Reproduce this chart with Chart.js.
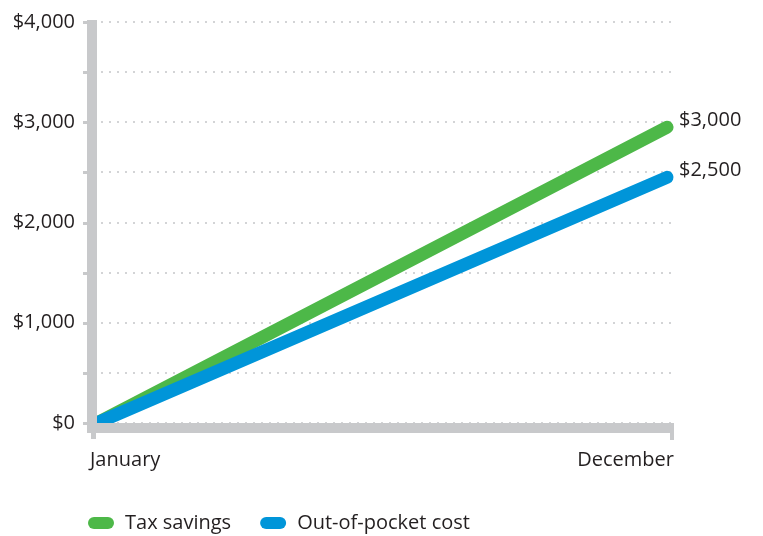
<!DOCTYPE html>
<html>
<head>
<meta charset="utf-8">
<script src="https://cdn.jsdelivr.net/npm/chart.js@4"></script>
<style>
  html, body { margin: 0; padding: 0; background: #fff; }
  #wrap { width: 763px; height: 536px; }
</style>
</head>
<body>
<div id="wrap"><canvas id="chart"></canvas></div>
<script>
const months = ["January", "December"];
const taxSavings = [0, 2950];
const outOfPocket = [0, 2450];
const endLabels = ["$3,000", "$2,500"];
const seriesNames = ["Tax savings", "Out-of-pocket cost"];
const seriesColors = ["#4db848", "#0095d9"];

const axisGray = "#c8c9cb";
const textColor = "#231f20";
const fontFamily = "'Open Sans', sans-serif";
const fontSize = 20;

// dotted grid under the lines, thick gray axes over their ends
const axesPlugin = {
  id: "axes",
  beforeDatasetsDraw(chart) {
    const { ctx, chartArea: { left, right } } = chart;
    const y = chart.scales.y;
    ctx.save();
    ctx.strokeStyle = "#d3d4d6";
    ctx.lineWidth = 2;
    ctx.setLineDash([2, 6]);
    y.ticks.forEach((t) => {
      const py = Math.round(y.getPixelForValue(t.value));
      ctx.beginPath();
      ctx.moveTo(left + 4, py);
      ctx.lineTo(right + 6, py);
      ctx.stroke();
    });
    ctx.restore();
  },
  afterDatasetsDraw(chart) {
    const { ctx, chartArea: { left, right, top, bottom } } = chart;
    const y = chart.scales.y;
    ctx.save();
    ctx.fillStyle = axisGray;
    ctx.fillRect(left - 10, top - 2, 10, bottom - top + 12);
    ctx.fillRect(left - 10, bottom, right + 7 - (left - 10), 10);
    y.ticks.forEach((t) => {
      const py = Math.round(y.getPixelForValue(t.value));
      ctx.fillRect(left - 14, py - 1, 4, 3);
    });
    ctx.fillRect(left - 6, bottom + 10, 5, 6);
    ctx.fillRect(right + 3, bottom + 10, 4, 7);
    ctx.restore();
  },
  afterDraw(chart) {
    const { ctx, chartArea: { bottom } } = chart;
    const x = chart.scales.x;
    ctx.save();
    ctx.font = fontSize + "px " + fontFamily;
    ctx.fillStyle = textColor;
    ctx.textBaseline = "middle";

    // month labels, first one left-aligned and last one right-aligned
    const labels = chart.data.labels;
    labels.forEach((lab, i) => {
      const px = x.getPixelForTick(i);
      const first = i === 0;
      ctx.textAlign = first ? "left" : "right";
      ctx.fillText(lab, first ? px - 7 : px + 7, bottom + 37);
    });

    // value labels at the end of each line
    ctx.textAlign = "left";
    chart.data.datasets.forEach((ds, i) => {
      const meta = chart.getDatasetMeta(i);
      const last = meta.data[meta.data.length - 1];
      ctx.fillText(endLabels[i], last.x + 12, last.y - 7);
    });

    // legend with pill markers
    let lx = 88;
    const ly = 523;
    seriesNames.forEach((name, i) => {
      ctx.fillStyle = seriesColors[i];
      ctx.beginPath();
      ctx.roundRect(lx, ly - 6, 26, 12, 6);
      ctx.fill();
      ctx.fillStyle = textColor;
      ctx.fillText(name, lx + 37, ly);
      lx += 37 + ctx.measureText(name).width + 29;
    });
    ctx.restore();
  },
};

new Chart(document.getElementById("chart"), {
  type: "line",
  data: {
    labels: months,
    datasets: [
      {
        label: seriesNames[0],
        data: taxSavings,
        borderColor: seriesColors[0],
        borderWidth: 13,
        borderCapStyle: "round",
        pointRadius: 0,
        clip: false,
        order: 1,
      },
      {
        label: seriesNames[1],
        data: outOfPocket,
        borderColor: seriesColors[1],
        borderWidth: 13,
        borderCapStyle: "round",
        pointRadius: 0,
        clip: false,
        order: 0,
      },
    ],
  },
  options: {
    responsive: true,
    maintainAspectRatio: false,
    animation: false,
    layout: { padding: { top: 22, right: 96, bottom: 0, left: 0 } },
    plugins: { legend: { display: false }, tooltip: { enabled: false } },
    scales: {
      x: {
        offset: false,
        border: { display: false },
        grid: { display: false },
        ticks: { display: false },
        afterFit: (s) => {
          s.height = 113;
          s.paddingLeft = 0;
          s.paddingRight = 0;
        },
      },
      y: {
        min: 0,
        max: 4000,
        border: { display: false },
        grid: { display: false },
        afterFit: (s) => {
          s.width = 97;
          s.paddingTop = 0;
          s.paddingBottom = 0;
        },
        ticks: {
          stepSize: 500,
          padding: 14,
          color: textColor,
          font: { family: fontFamily, size: fontSize },
          callback: (v) => (v % 1000 === 0 ? "$" + v.toLocaleString("en-US") : ""),
        },
      },
    },
  },
  plugins: [axesPlugin],
});
</script>
</body>
</html>
